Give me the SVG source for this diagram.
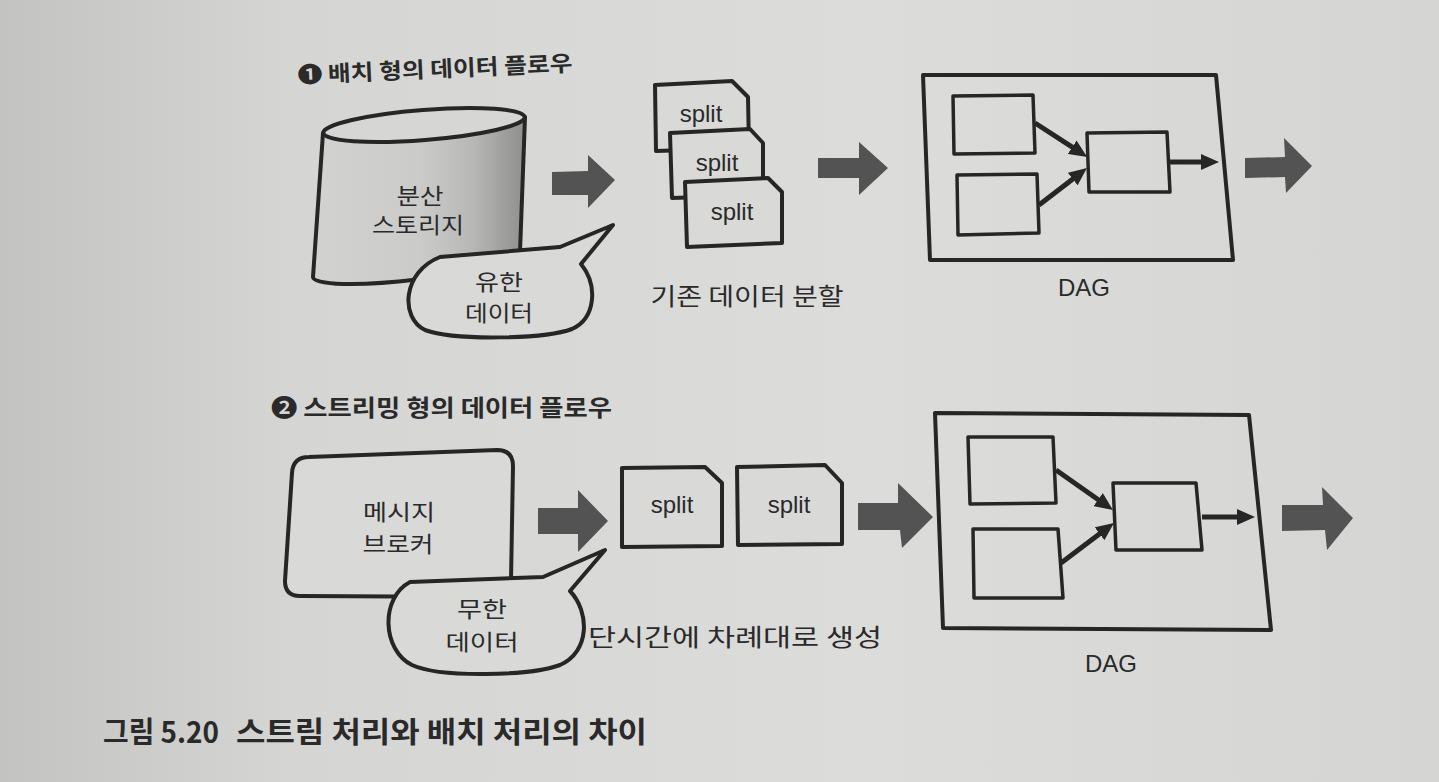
<svg xmlns="http://www.w3.org/2000/svg" width="1439" height="782" viewBox="0 0 1439 782">
  <defs>
    <linearGradient id="page" x1="0" y1="0" x2="1" y2="0">
      <stop offset="0" stop-color="#c3c4c2"/>
      <stop offset="0.2" stop-color="#d5d6d4"/>
      <stop offset="0.6" stop-color="#dcdddb"/>
      <stop offset="1" stop-color="#d5d6d4"/>
    </linearGradient>
    <linearGradient id="cyl" gradientUnits="userSpaceOnUse" x1="313" y1="0" x2="525" y2="0">
      <stop offset="0" stop-color="#d2d3d1"/>
      <stop offset="0.5" stop-color="#cbccca"/>
      <stop offset="0.75" stop-color="#b8b9b7"/>
      <stop offset="0.92" stop-color="#9c9d9b"/>
      <stop offset="1" stop-color="#8f908e"/>
    </linearGradient>
    <marker id="ah" viewBox="0 0 18 16" refX="1" refY="8" markerWidth="18" markerHeight="16" markerUnits="userSpaceOnUse" orient="auto">
      <path d="M0,0 L18,8 L0,16 Z" fill="#262626"/>
    </marker>
    <style>
      .ln { fill: none; stroke: #262626; stroke-width: 4; stroke-linejoin: round; }
      .box { fill: #d9dad8; stroke: #262626; stroke-width: 4; stroke-linejoin: round; }
      .ibox { fill: none; stroke: #262626; stroke-width: 3.5; stroke-linejoin: round; }
      .edge { fill: none; stroke: #262626; stroke-width: 5; marker-end: url(#ah); }
      .fat { fill: #535353; }
      .kr { font-family: "Noto Sans CJK KR", "Noto Sans", sans-serif; fill: #2a2a2a; font-size: 24px; }
      .kr2 { font-family: "Noto Sans CJK KR", "Noto Sans", sans-serif; fill: #2a2a2a; font-size: 22px; }
      .en { font-family: "Liberation Sans", Arial, sans-serif; fill: #2a2a2a; font-size: 24px; }
      .title { font-family: "Noto Sans CJK KR", "DejaVu Sans", sans-serif; font-weight: bold; fill: #2a2a2a; }
      .mid { text-anchor: middle; }
    </style>
  </defs>

  <rect x="0" y="0" width="1439" height="782" fill="url(#page)"/>

  <!-- Section titles -->
  <text class="title" x="298" y="83" font-size="22" textLength="275" lengthAdjust="spacingAndGlyphs" transform="rotate(-2.5 298 83)">❶ 배치 형의 데이터 플로우</text>
  <text class="title" x="271" y="416" font-size="23" textLength="341" lengthAdjust="spacingAndGlyphs">❷ 스트리밍 형의 데이터 플로우</text>

  <!-- ===== Section 1 ===== -->
  <g id="storage">
    <path d="M323,133 L313,277 A104 15 -7 0 0 520,252 L525,117 Z" fill="url(#cyl)" stroke="#262626" stroke-width="4" stroke-linejoin="round"/>
    <ellipse cx="424" cy="125" rx="101" ry="15" transform="rotate(-4.5 424 125)" fill="#d6d7d5" stroke="#262626" stroke-width="4"/>
    <text class="kr2 mid" x="420" y="204" textLength="47" lengthAdjust="spacingAndGlyphs">분산</text>
    <text class="kr2 mid" x="418" y="233" textLength="92" lengthAdjust="spacingAndGlyphs">스토리지</text>
  </g>

  <g id="bubble-finite">
    <path class="box" d="M440,257 L560,247 L613,225 L581,264 C598,285 596,318 572,329 C545,339 455,341 425,330 C400,318 402,272 440,257 Z"/>
    <text class="kr2 mid" x="499" y="290" textLength="48" lengthAdjust="spacingAndGlyphs">유한</text>
    <text class="kr2 mid" x="499" y="321" textLength="68" lengthAdjust="spacingAndGlyphs">데이터</text>
  </g>

  <g id="split1-a">
    <path class="box" d="M655,85 L732,81 L748,97 L749,148 L656,151 Z"/>
    <text class="en mid" x="701" y="122">split</text>
  </g>
  <g id="split1-b">
    <path class="box" d="M670,133 L750,129 L763,143 L763,195 L672,198 Z"/>
    <text class="en mid" x="717" y="171">split</text>
  </g>
  <g id="split1-c">
    <path class="box" d="M685,182 L768,178 L782,192 L782,243 L687,247 Z"/>
    <text class="en mid" x="732" y="220">split</text>
  </g>
  <text class="kr mid" x="747" y="305" textLength="193" lengthAdjust="spacingAndGlyphs">기존 데이터 분할</text>

  <g id="dag1">
    <path class="ln" d="M923,75 L1216,75 L1233,260 L930,260 Z"/>
    <path class="ibox" d="M953,96 L1033,95 L1035,153 L954,154 Z"/>
    <path class="ibox" d="M957,175 L1037,174 L1039,233 L958,235 Z"/>
    <path class="ibox" d="M1087,133 L1167,132 L1170,192 L1089,192 Z"/>
    <line class="edge" x1="1035" y1="123" x2="1073" y2="147.7"/>
    <line class="edge" x1="1039" y1="205" x2="1073.5" y2="178.4"/>
    <line class="edge" x1="1170" y1="162" x2="1202" y2="162"/>
    <text class="en mid" x="1084" y="296" font-size="26">DAG</text>
  </g>

  <!-- ===== Section 2 ===== -->
  <g id="broker">
    <path class="box" d="M309,457 L497,450 Q513,450 513,466 L511,581 Q511,597 496,597 L300,596 Q285,596 285,581 L292,473 Q293,457 309,457 Z"/>
    <text class="kr2 mid" x="399" y="520" textLength="72" lengthAdjust="spacingAndGlyphs">메시지</text>
    <text class="kr2 mid" x="398" y="552" textLength="71" lengthAdjust="spacingAndGlyphs">브로커</text>
  </g>

  <g id="bubble-infinite">
    <path class="box" d="M410,582 L543,577 L605,550 L570,591 C590,612 590,652 560,665 C530,676 440,678 412,665 C382,650 380,598 410,582 Z"/>
    <text class="kr2 mid" x="482" y="617" textLength="50" lengthAdjust="spacingAndGlyphs">무한</text>
    <text class="kr2 mid" x="482" y="650" textLength="73" lengthAdjust="spacingAndGlyphs">데이터</text>
  </g>

  <g id="split2-a">
    <path class="box" d="M622,468 L705,467 L722,483 L722,546 L622,547 Z"/>
    <text class="en mid" x="672" y="513">split</text>
  </g>
  <g id="split2-b">
    <path class="box" d="M737,467 L825,465 L842,483 L842,544 L738,545 Z"/>
    <text class="en mid" x="789" y="513">split</text>
  </g>
  <text class="kr" x="588" y="646" font-size="26" textLength="294" lengthAdjust="spacingAndGlyphs">단시간에 차례대로 생성</text>

  <g id="dag2">
    <path class="ln" d="M935,413 L1249,415 L1271,630 L943,628 Z"/>
    <path class="ibox" d="M968,437 L1053,437 L1056,503 L970,504 Z"/>
    <path class="ibox" d="M973,529 L1058,529 L1063,598 L974,598 Z"/>
    <path class="ibox" d="M1113,483 L1196,483 L1202,550 L1116,550 Z"/>
    <line class="edge" x1="1056" y1="470" x2="1099" y2="500.2"/>
    <line class="edge" x1="1061" y1="563" x2="1100.4" y2="533.2"/>
    <line class="edge" x1="1202" y1="517" x2="1238" y2="517"/>
    <text class="en mid" x="1111" y="672" font-size="27">DAG</text>
  </g>

  <!-- Connectors (fat flow arrows) -->
  <g id="connectors">
    <polygon class="fat" points="552,172 588,171 588,155 615,180 588,208 588,195 552,195"/>
    <polygon class="fat" points="818,158 859,158 859,142 888,168 859,195 859,178 818,178"/>
    <polygon class="fat" points="1245,158 1285,157 1284,138 1312,166 1286,193 1285,177 1245,178"/>
    <polygon class="fat" points="538,508 578,508 578,490 608,521 578,552 578,534 538,534"/>
    <polygon class="fat" points="858,503 898,503 898,483 933,517 902,548 900,530 858,530"/>
    <polygon class="fat" points="1282,505 1323,505 1322,487 1353,518 1327,550 1325,530 1282,531"/>
  </g>

  <!-- Caption -->
  <text class="title" x="103" y="743" font-size="29"><tspan textLength="116" lengthAdjust="spacingAndGlyphs">그림 5.20</tspan><tspan x="236" textLength="411" lengthAdjust="spacingAndGlyphs">스트림 처리와 배치 처리의 차이</tspan></text>
</svg>
